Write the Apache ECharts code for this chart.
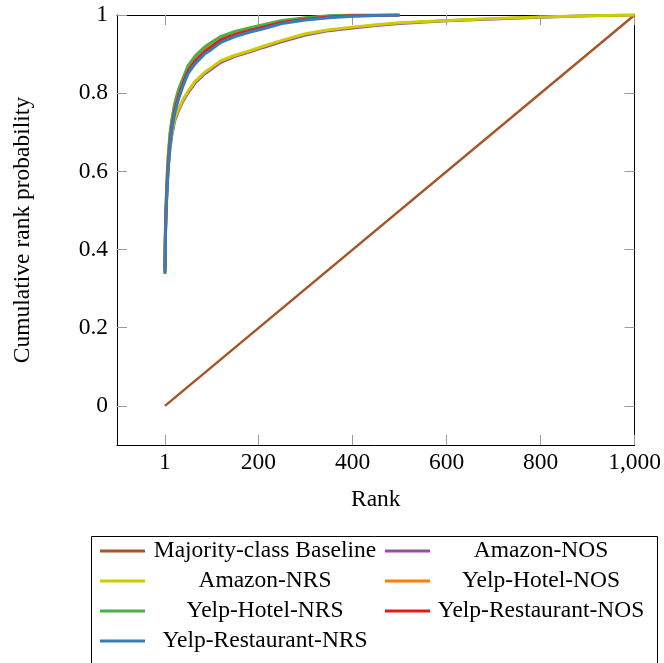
<!DOCTYPE html>
<html>
<head>
<meta charset="utf-8">
<script src="https://cdn.jsdelivr.net/npm/echarts@6/dist/echarts.min.js"></script>
<style>
  html, body { margin: 0; padding: 0; background: #fff; }
  #chart { width: 664px; height: 663px; }
</style>
</head>
<body>
<div id="chart"></div>
<script>
const ranks = [1, 2, 3, 5, 8, 12, 16, 22, 30, 40, 50, 65, 85, 100, 120, 150, 180, 210, 250, 300, 350, 400, 450, 500, 600, 700, 800, 900, 1000];
const yelpRanks = ranks.slice(0, 24); // yelp curves stop at 500

const baselineX = [1, 1000];
const baselineY = [0, 1];

const amazonNOS = [0.345, 0.435, 0.485, 0.545, 0.61, 0.66, 0.695, 0.73, 0.756, 0.781, 0.801, 0.826, 0.849, 0.862, 0.879, 0.894, 0.905, 0.917, 0.932, 0.949, 0.96, 0.967, 0.973, 0.978, 0.985, 0.99, 0.994, 0.998, 1.0];
const amazonNRS = [0.35, 0.44, 0.49, 0.55, 0.615, 0.665, 0.70, 0.735, 0.76, 0.785, 0.805, 0.83, 0.853, 0.866, 0.883, 0.897, 0.908, 0.92, 0.935, 0.952, 0.962, 0.969, 0.975, 0.98, 0.986, 0.991, 0.995, 0.998, 1.0];
const hotelNOS = [0.35, 0.45, 0.5, 0.568, 0.638, 0.697, 0.732, 0.772, 0.807, 0.837, 0.866, 0.892, 0.915, 0.927, 0.942, 0.956, 0.965, 0.973, 0.984, 0.992, 0.997, 0.999, 1.0, 1.0];
const hotelNRS = [0.35, 0.45, 0.5, 0.57, 0.64, 0.70, 0.735, 0.775, 0.81, 0.84, 0.87, 0.895, 0.918, 0.93, 0.945, 0.958, 0.967, 0.975, 0.986, 0.993, 0.998, 1.0, 1.0, 1.0];
const restNOS = [0.338, 0.435, 0.485, 0.548, 0.618, 0.677, 0.716, 0.757, 0.792, 0.827, 0.856, 0.882, 0.906, 0.919, 0.936, 0.95, 0.96, 0.969, 0.981, 0.989, 0.995, 0.998, 0.999, 1.0];
const restNRS = [0.34, 0.43, 0.48, 0.54, 0.61, 0.67, 0.71, 0.75, 0.785, 0.82, 0.85, 0.875, 0.90, 0.912, 0.93, 0.945, 0.956, 0.965, 0.978, 0.987, 0.993, 0.997, 0.999, 1.0];

const xTicks = [1, 200, 400, 600, 800, 1000];
const yTicks = [0, 0.2, 0.4, 0.6, 0.8, 1];

const names = ['Majority-class Baseline', 'Amazon-NOS', 'Amazon-NRS', 'Yelp-Hotel-NOS', 'Yelp-Hotel-NRS', 'Yelp-Restaurant-NOS', 'Yelp-Restaurant-NRS'];
const colors = ['#a65628', '#984ea3', '#cccc00', '#ff7f00', '#4daf4a', '#e41a1c', '#377eb8'];

function pairs(xs, ys) {
    return xs.map((x, i) => [x, ys[i]]);
}

const seriesData = [
    pairs(baselineX, baselineY),
    pairs(ranks, amazonNOS),
    pairs(ranks, amazonNRS),
    pairs(yelpRanks, hotelNOS),
    pairs(yelpRanks, hotelNRS),
    pairs(yelpRanks, restNOS),
    pairs(yelpRanks, restNRS),
];

const font = 'Liberation Serif';
const fs = 23.5;
const tickColor = '#999';

function legendCol(data, left, textWidth) {
    return {
        orient: 'vertical',
        left: left,
        top: 539,
        padding: 0,
        itemGap: 6,
        itemWidth: 45,
        itemHeight: 3,
        icon: 'rect',
        data: data,
        formatter: (n) => '{t|' + n + '}',
        textStyle: {
            rich: {
                t: {
                    fontFamily: font,
                    fontSize: fs,
                    color: '#000',
                    width: textWidth,
                    align: 'center',
                    lineHeight: 24,
                },
            },
        },
    };
}

const chart = echarts.init(document.getElementById('chart'));
chart.setOption({
    animation: false,
    color: colors,
    grid: { left: 117, right: 29, top: 15, bottom: 218 },
    legend: [
        legendCol([names[0], names[2], names[4], names[6]], 100, 230),
        legendCol([names[1], names[3], names[5]], 385, 212),
    ],
    graphic: [
        {
            type: 'rect',
            shape: { x: 91.5, y: 536.5, width: 566, height: 160 },
            style: { fill: 'none', stroke: '#000', lineWidth: 1 },
            silent: true,
        },
    ],
    xAxis: [
        {
            type: 'value',
            min: -101,
            max: 1000,
            position: 'bottom',
            name: 'Rank',
            nameLocation: 'middle',
            nameGap: 43,
            nameTextStyle: { fontFamily: font, fontSize: fs, color: '#000' },
            axisLine: { onZero: false, lineStyle: { color: '#000', width: 1 } },
            axisTick: { inside: true, length: 10, customValues: xTicks, lineStyle: { color: tickColor } },
            axisLabel: {
                customValues: xTicks,
                margin: 6,
                fontFamily: font,
                fontSize: fs,
                color: '#000',
                formatter: (v) => v.toLocaleString('en-US'),
            },
            splitLine: { show: false },
        },
        {
            type: 'value',
            min: -101,
            max: 1000,
            position: 'top',
            axisLine: { onZero: false, lineStyle: { color: '#000', width: 1 } },
            axisTick: { inside: true, length: 10, customValues: xTicks, lineStyle: { color: tickColor } },
            axisLabel: { show: false, customValues: xTicks },
            splitLine: { show: false },
        },
    ],
    yAxis: [
        {
            type: 'value',
            min: -0.1,
            max: 1,
            position: 'left',
            name: 'Cumulative rank probability',
            nameLocation: 'middle',
            nameGap: 82,
            nameTextStyle: { fontFamily: font, fontSize: fs, color: '#000' },
            axisLine: { show: true, onZero: false, lineStyle: { color: '#000', width: 1 } },
            axisTick: { show: true, inside: true, length: 10, customValues: yTicks, lineStyle: { color: tickColor } },
            axisLabel: {
                customValues: yTicks,
                margin: 9,
                fontFamily: font,
                fontSize: fs,
                color: '#000',
                formatter: (v) => String(Math.round(v * 10) / 10),
            },
            splitLine: { show: false },
        },
        {
            type: 'value',
            min: -0.1,
            max: 1,
            position: 'right',
            axisLine: { show: true, onZero: false, lineStyle: { color: '#000', width: 1 } },
            axisTick: { show: true, inside: true, length: 10, customValues: yTicks, lineStyle: { color: tickColor } },
            axisLabel: { show: false, customValues: yTicks },
            splitLine: { show: false },
        },
    ],
    series: names.map((n, i) => ({
        name: n,
        type: 'line',
        data: seriesData[i],
        symbol: 'none',
        lineStyle: { width: i === 0 ? 2.5 : 3, color: colors[i] },
        itemStyle: { color: colors[i] },
        z: 2 + i,
    })),
});
</script>
</body>
</html>
